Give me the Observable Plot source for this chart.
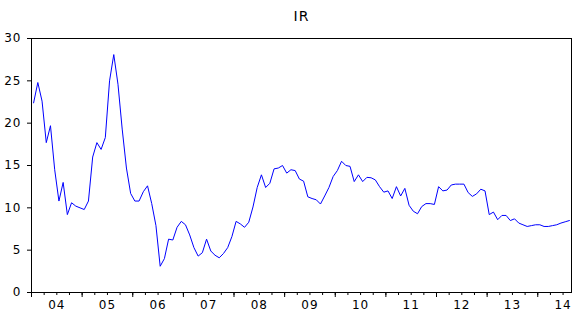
<!DOCTYPE html>
<html>
<head>
<meta charset="utf-8">
<script src="https://cdn.jsdelivr.net/npm/d3@7"></script>
<script src="https://cdn.jsdelivr.net/npm/@observablehq/plot@0.6"></script>
<style>
  html, body { margin: 0; padding: 0; background: #fff; }
  #chart svg { display: block; }
</style>
</head>
<body>
<div id="chart"></div>
<script>
// Monthly IR series, Jan 2004 .. Aug 2014 (128 observations)
const title = "IR";
const irValues = [
  22.4, 24.8, 22.6, 17.7, 19.7, 14.5, 10.8, 13.0, 9.2, 10.6, 10.2, 10.0,
  9.8, 10.8, 16.0, 17.7, 16.9, 18.3, 25.0, 28.1, 24.6, 19.3, 14.7, 11.7,
  10.8, 10.8, 11.9, 12.6, 10.5, 7.9, 3.1, 4.0, 6.3, 6.2, 7.7, 8.4,
  8.0, 6.8, 5.3, 4.3, 4.7, 6.3, 4.9, 4.4, 4.1, 4.6, 5.3, 6.6,
  8.4, 8.1, 7.7, 8.3, 10.1, 12.4, 13.9, 12.4, 12.9, 14.6, 14.7, 15.0,
  14.1, 14.5, 14.4, 13.4, 13.15, 11.3, 11.1, 10.95, 10.45, 11.4, 12.4, 13.7,
  14.4, 15.5, 15.0, 14.9, 13.1, 13.9, 13.1, 13.6, 13.55, 13.3, 12.5, 11.85,
  12.0, 11.1, 12.5, 11.4, 12.3, 10.3, 9.6, 9.3, 10.15, 10.5, 10.5, 10.4,
  12.5, 12.0, 12.1, 12.7, 12.8, 12.8, 12.8, 11.8, 11.35, 11.65, 12.2, 12.0,
  9.2, 9.5, 8.6, 9.1, 9.1, 8.5, 8.7, 8.2, 8.0, 7.8, 7.9, 8.0,
  8.0, 7.8, 7.8, 7.9, 8.0, 8.2, 8.35, 8.5
];
const yearLabels = ["04","05","06","07","08","09","10","11","12","13","14"];
const yTicks = [0, 5, 10, 15, 20, 25, 30];

// observation slots: observation i occupies [i, i+1], plotted at its centre
const data = irValues.map((v, i) => ({t: i + 0.5, v}));
const nSlots = irValues.length;
const quarterTicks = d3.range(0, nSlots, 3);
const yearTicks = d3.range(0, nSlots, 12);
const labelPos = yearLabels.map((_, k) => 6 + 12 * k);
const labelOf = new Map(labelPos.map((p, k) => [p, yearLabels[k]]));

const font = "DejaVu Sans, Verdana, sans-serif";

const chart = Plot.plot({
  width: 578,
  height: 319,
  marginLeft: 31,
  marginRight: 7,
  marginTop: 38,
  marginBottom: 27,
  style: {fontFamily: font, fontSize: "12px", color: "#000", background: "#fff"},
  x: {domain: [0, nSlots], axis: null, label: null},
  y: {domain: [0, 30], axis: null, label: null},
  marks: [
    Plot.axisY(yTicks, {label: null, tickSize: 4, tickPadding: 6, tickFormat: d => String(d), stroke: "#000", fill: "#000", fontSize: 12}),
    Plot.axisX(quarterTicks, {label: null, tickSize: 3, tickFormat: () => "", stroke: "#000"}),
    Plot.axisX(yearTicks, {label: null, tickSize: 5, tickFormat: () => "", stroke: "#000"}),
    Plot.axisX(labelPos, {label: null, tickSize: 0, tickPadding: 8, tickFormat: d => labelOf.get(d), fill: "#000", fontSize: 12}),
    Plot.line(data, {x: "t", y: "v", stroke: "#0000ff", strokeWidth: 1}),
    Plot.frame({stroke: "#000", strokeWidth: 1}),
    Plot.text([title], {frameAnchor: "top", dy: -27, fontSize: 14, fill: "#000"})
  ]
});

chart.querySelectorAll("text").forEach(t => t.setAttribute("letter-spacing", "1"));
document.getElementById("chart").appendChild(chart);
</script>
</body>
</html>
